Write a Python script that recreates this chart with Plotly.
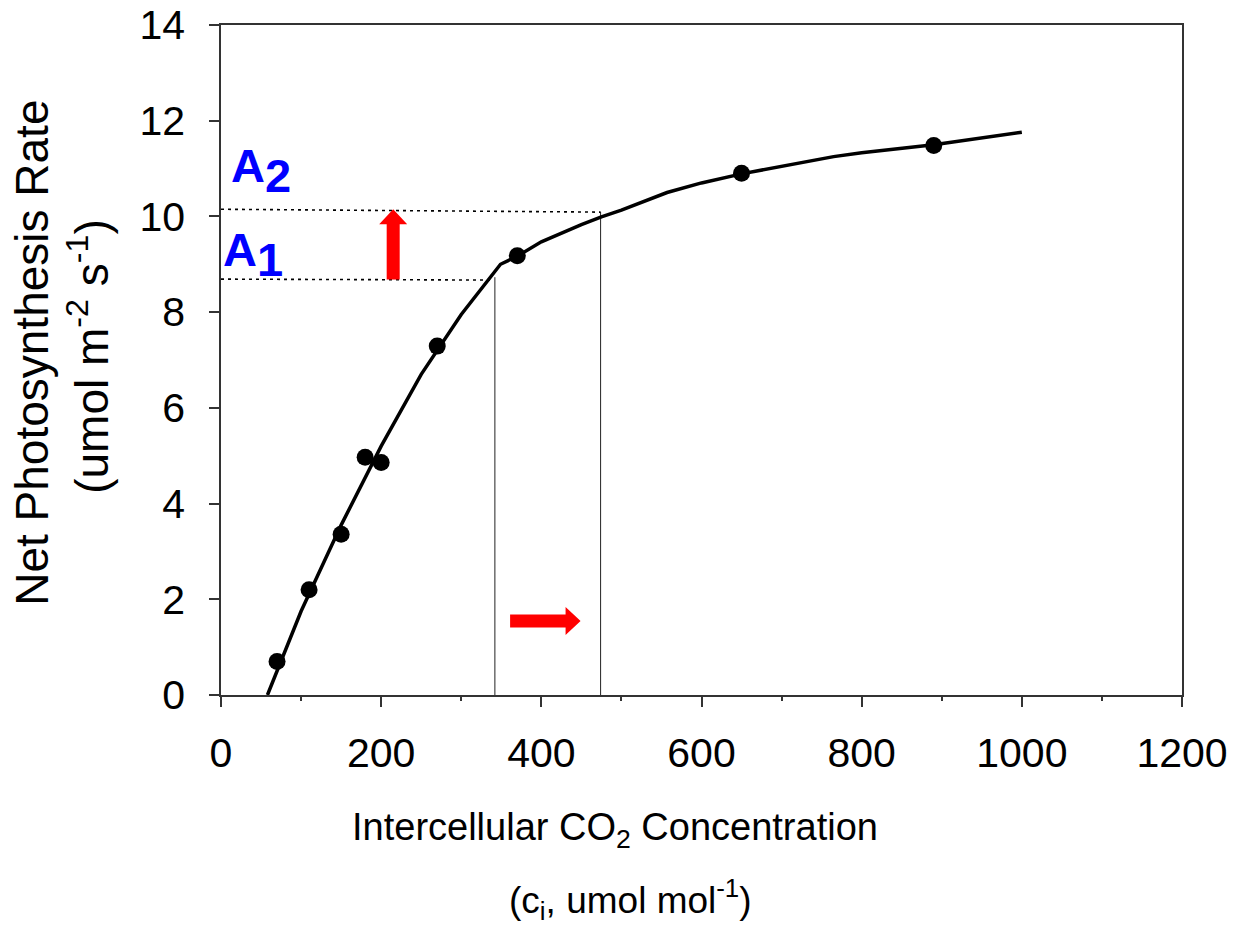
import plotly.graph_objects as go

# ---------------- data ----------------
obs_ci = [70, 110, 150, 180, 200, 270, 370, 650, 890]
obs_A = [0.7, 2.2, 3.36, 4.97, 4.86, 7.29, 9.18, 10.9, 11.48]

fit_ci = [58, 100, 150, 200, 250, 300, 349, 370, 400, 450, 475, 500, 557, 600, 650, 700, 765, 800, 890, 1000]
fit_A = [0.0, 1.75, 3.55, 5.2, 6.7, 7.95, 9.0, 9.17, 9.47, 9.83, 9.99, 10.13, 10.5, 10.7, 10.89, 11.05, 11.25, 11.33, 11.5, 11.76]

# guide lines: (ci, A) pairs
vline1_ci = [342, 342]
vline1_A = [0, 8.73]
vline2_ci = [474, 474]
vline2_A = [0, 10.09]
hline1_ci = [0, 340]
hline1_A = [8.69, 8.67]
hline2_ci = [0, 474]
hline2_A = [10.15, 10.09]

# arrows (data units)
up_arrow = dict(x=215, y_tail=8.68, y_tip=10.15)
right_arrow = dict(y=1.545, x_tail=361, x_tip=449)

x_ticks = [0, 200, 400, 600, 800, 1000, 1200]
x_minor = [100, 300, 500, 700, 900, 1100]
y_ticks = [0, 2, 4, 6, 8, 10, 12, 14]

# ---------------- layout geometry ----------------
W, H = 1234, 931
PLOT_L, PLOT_R, PLOT_T, PLOT_B = 220.5, 1181.7, 24.5, 695.0   # plot area on screen
ML, MT = PLOT_L, PLOT_T
PW, PH = PLOT_R - PLOT_L, PLOT_B - PLOT_T
MR, MB = W - ML - PW, H - MT - PH
XMAX, YMAX = 1200, 14
pxx = PW / XMAX   # px per ci unit
pxy = PH / YMAX   # px per A unit


def paper_x(sx):
    return (sx - PLOT_L) / PW


def paper_y(sy):
    return (PLOT_B - sy) / PH


AXC = "#333333"
FONT = "Liberation Sans, Arial, sans-serif"

fig = go.Figure()

# guide lines
for xs, ys in [(vline1_ci, vline1_A), (vline2_ci, vline2_A)]:
    fig.add_trace(go.Scatter(x=xs, y=ys, mode="lines",
                             line=dict(color="#222222", width=1), showlegend=False, hoverinfo="skip"))
for xs, ys in [(hline1_ci, hline1_A), (hline2_ci, hline2_A)]:
    fig.add_trace(go.Scatter(x=xs, y=ys, mode="lines",
                             line=dict(color="#000000", width=1.6, dash="3px,4px"),
                             showlegend=False, hoverinfo="skip"))

# fitted curve
fig.add_trace(go.Scatter(x=fit_ci, y=fit_A, mode="lines",
                         line=dict(color="black", width=3.5), showlegend=False))
# observations
fig.add_trace(go.Scatter(x=obs_ci, y=obs_A, mode="markers",
                         marker=dict(color="black", size=17), showlegend=False))


def arrow_path_up(a, shaft=13, head=28, hlen=15):
    hs = shaft / 2 / pxx
    hh = head / 2 / pxx
    hl = hlen / pxy
    x, y0, y1 = a["x"], a["y_tail"], a["y_tip"]
    yb = y1 - hl
    pts = [(x - hs, y0), (x - hs, yb), (x - hh, yb), (x, y1), (x + hh, yb), (x + hs, yb), (x + hs, y0)]
    return "M " + " L ".join(f"{p[0]},{p[1]}" for p in pts) + " Z"


def arrow_path_right(a, shaft=13, head=28, hlen=15):
    hs = shaft / 2 / pxy
    hh = head / 2 / pxy
    hl = hlen / pxx
    y, x0, x1 = a["y"], a["x_tail"], a["x_tip"]
    xb = x1 - hl
    pts = [(x0, y - hs), (xb, y - hs), (xb, y - hh), (x1, y), (xb, y + hh), (xb, y + hs), (x0, y + hs)]
    return "M " + " L ".join(f"{p[0]},{p[1]}" for p in pts) + " Z"


for path in [arrow_path_up(up_arrow), arrow_path_right(right_arrow)]:
    fig.add_shape(type="path", path=path, xref="x", yref="y",
                  fillcolor="#FF0000", line=dict(width=0))

# A1 / A2 labels (index lowered but same size)
LAB = 47
lab_font = dict(family=FONT, size=LAB, color="#0000FF")
for idx, sx, s_base in [("2", 229.0, 180.5), ("1", 220.5, 264.0)]:
    fig.add_annotation(text=f"<b>A<sub><span style='font-size:{LAB}px'>{idx}</span></sub></b>",
                       x=paper_x(sx), y=paper_y(s_base - 0.905 * LAB - 1),
                       xref="paper", yref="paper", xanchor="left", yanchor="top",
                       showarrow=False, font=lab_font)

# axis titles as annotations
XT = 38
xt_font = dict(family=FONT, size=XT, color="black")
fig.add_annotation(text="Intercellular CO<sub>2</sub> Concentration",
                   x=paper_x(615), y=paper_y(839 - 0.905 * XT - 1),
                   xref="paper", yref="paper", xanchor="center", yanchor="top", showarrow=False, font=xt_font)
fig.add_annotation(text="(c<sub>i</sub>, umol mol<sup>-1</sup>)",
                   x=paper_x(630), y=paper_y(900),
                   xref="paper", yref="paper", xanchor="center", yanchor="middle", showarrow=False,
                   font=dict(family=FONT, size=37, color="black"))

yt_font = dict(family=FONT, size=46, color="black")
fig.add_annotation(text="Net Photosynthesis Rate", x=paper_x(32), y=paper_y(353),
                   xref="paper", yref="paper", xanchor="center", yanchor="middle", textangle=-90,
                   showarrow=False, font=yt_font)
fig.add_annotation(text="(umol m<sup>-2</sup> s<sup>-1</sup>)", x=paper_x(88), y=paper_y(357),
                   xref="paper", yref="paper", xanchor="center", yanchor="middle", textangle=-90,
                   showarrow=False, font=yt_font)

axis_common = dict(showline=True, linecolor=AXC, linewidth=1.5, mirror=True,
                   ticks="outside", ticklen=10, tickwidth=1.5, tickcolor=AXC,
                   showgrid=False, zeroline=False, ticklabeloverflow="allow",
                   tickfont=dict(family=FONT, size=41, color="black"))

fig.update_xaxes(range=[0, XMAX], tickvals=x_ticks, ticktext=[str(v) for v in x_ticks],
                 minor=dict(tickvals=x_minor, ticklen=4, tickwidth=1.5,
                            tickcolor=AXC, ticks="outside", showgrid=False),
                 ticklabelstandoff=11, **axis_common)
fig.update_yaxes(range=[0, YMAX], tickvals=y_ticks, ticktext=[str(v) for v in y_ticks],
                 ticklabelstandoff=16, **axis_common)

fig.update_layout(width=W, height=H, margin=dict(l=ML, r=MR, t=MT, b=MB, autoexpand=False),
                  paper_bgcolor="white", plot_bgcolor="white", showlegend=False,
                  font=dict(family=FONT))

# remove the default 8px page margin so the figure fills the window exactly
fig.write_html("out.html", config={"displayModeBar": False},
               post_script="document.body.style.margin='0px';")
